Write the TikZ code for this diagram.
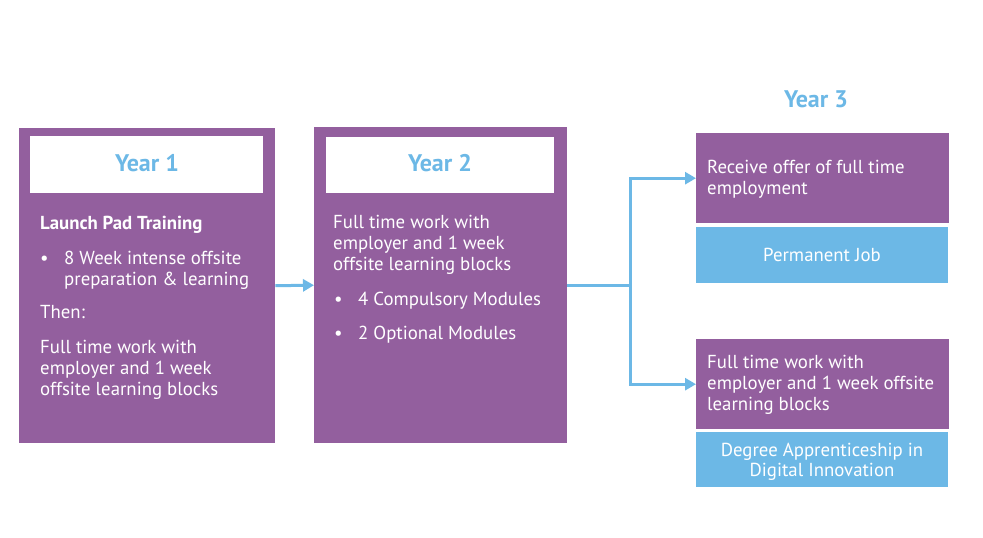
\documentclass[tikz,border=0pt]{standalone}
\usepackage{fontspec}
\setmainfont{PT Sans}
\usetikzlibrary{arrows.meta}
\definecolor{pur}{RGB}{147,95,158}
\definecolor{sky}{RGB}{108,184,230}
\newcommand\bodyfont{\fontsize{18.8}{21}\selectfont}
\newcommand\yearfont{\fontsize{24}{27}\selectfont\bfseries}
\begin{document}
\begin{tikzpicture}[x=1pt,y=-1pt,
  pbox/.style={fill=pur,draw=none,inner sep=0,anchor=north west},
  bbox/.style={fill=sky,draw=none,inner sep=0,anchor=north west},
  wbox/.style={fill=white,draw=none,inner sep=0,anchor=north west},
  txt/.style={anchor=base west,inner sep=0,text=white,font=\bodyfont},
  ctxt/.style={anchor=base,inner sep=0,text=white,font=\bodyfont},
  yr/.style={anchor=base,inner sep=0,text=sky,font=\yearfont},
  arr/.style={draw=sky,line width=3pt,line join=miter,-{Triangle[length=11pt,width=12pt]}},
  ln/.style={draw=sky,line width=3pt}]
\useasboundingbox (0,0) rectangle (983,538);
\fill[white] (0,0) rectangle (983,538);
% Year 1
\node[pbox,minimum width=256pt,minimum height=315pt] (b1) at (19,128) {};
\node[wbox,minimum width=233pt,minimum height=57pt] (h1) at (30,136) {};
\node[yr] (y1) at (147,171) {Year 1};
\node[txt,font=\bodyfont\bfseries] (a1) at (40,229) {Launch Pad Training};
\node[txt] (a2) at (40,264) {\textbullet};
\node[txt] (a3) at (64,264) {8 Week intense offsite};
\node[txt] (a4) at (64,285) {preparation \& learning};
\node[txt] (a5) at (40,318) {Then:};
\node[txt] (a6) at (40,353) {Full time work with};
\node[txt] (a7) at (40,374) {employer and 1 week};
\node[txt] (a8) at (40,395) {offsite learning blocks};
% Year 2
\node[pbox,minimum width=253pt,minimum height=316pt] (b2) at (314,127) {};
\node[wbox,minimum width=228pt,minimum height=56pt] (h2) at (326,137) {};
\node[yr] (y2) at (440,171) {Year 2};
\node[txt] (c1) at (333,228) {Full time work with};
\node[txt] (c2) at (333,249) {employer and 1 week};
\node[txt] (c3) at (333,270) {offsite learning blocks};
\node[txt] (c4) at (334,305) {\textbullet};
\node[txt] (c5) at (358,305) {4 Compulsory Modules};
\node[txt] (c6) at (334,339) {\textbullet};
\node[txt] (c7) at (358,339) {2 Optional Modules};
% Year 3
\node[yr] (y3) at (816,107) {Year 3};
\node[pbox,minimum width=253pt,minimum height=90pt] (r1) at (696,133) {};
\node[txt] (d1) at (707,173) {Receive offer of full time};
\node[txt] (d2) at (707,194) {employment};
\node[bbox,minimum width=252pt,minimum height=56pt] (p1) at (696,227) {};
\node[ctxt] (e1) at (822,261) {Permanent Job};
\node[pbox,minimum width=253pt,minimum height=90pt] (r2) at (696,339) {};
\node[txt] (f1) at (707,368) {Full time work with};
\node[txt] (f2) at (707,389) {employer and 1 week offsite};
\node[txt] (f3) at (707,410) {learning blocks};
\node[bbox,minimum width=252pt,minimum height=55pt] (p2) at (696,432) {};
\node[ctxt] (g1) at (822,456) {Degree Apprenticeship in};
\node[ctxt] (g2) at (822,476) {Digital Innovation};
% connectors
\draw[arr] (b1.east) -- (b2.west);
\coordinate (j) at (630,285);
\draw[ln] (b2.east |- j) -- (j);
\draw[arr] (j) |- (r1.west);
\draw[arr] (j) |- (r2.west);
\end{tikzpicture}
\end{document}
